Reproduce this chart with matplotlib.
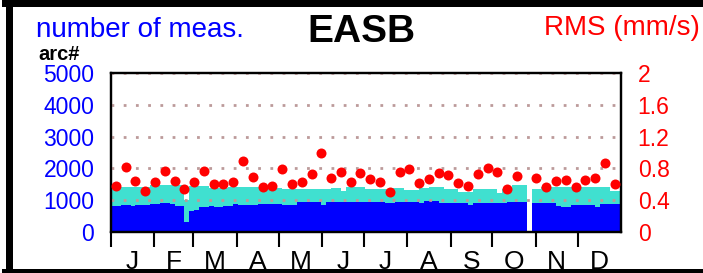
import matplotlib
matplotlib.use('Agg')
import matplotlib.pyplot as plt
import numpy as np
from matplotlib.lines import Line2D

plt.rcParams['font.family'] = ['Liberation Sans', 'DejaVu Sans']

# ---- data ----
months = ['J', 'F', 'M', 'A', 'M', 'J', 'J', 'A', 'S', 'O', 'N', 'D']
month_start_day = [0, 31, 59, 90, 120, 151, 181, 212, 243, 273, 304, 334, 365]

# half-week bins (3.5 days each), number of measurements
blue_counts = [
    830, 830, 840, 840, 830, 840, 850, 850, 880, 890, 900, 900, 890, 830, 830, 330,
    670, 680, 800, 800, 810, 800, 800, 820, 830, 880, 860, 860, 860, 860, 890, 890,
    890, 890, 880, 840, 850, 850, 930, 940, 940, 940, 940, 850, 940, 950, 950, 950,
    950, 950, 950, 950, 950, 950, 950, 950, 910, 900, 940, 940, 940, 940, 940, 920,
    970, 970, 970, 920, 905, 905, 905, 905, 905, 860, 920, 920, 920, 920, 920, 920,
    920, 930, 945, 945, 945, 0, 920, 920, 920, 900, 900, 820, 800, 800, 860, 860,
    860, 860, 860, 780, 890, 890, 890, 880]
total_counts = [
    1400, 1400, 1400, 1400, 1400, 1400, 1430, 1430, 1480, 1480, 1480, 1480, 1480, 1480, 1470, 1000,
    1450, 1450, 1450, 1450, 1380, 1380, 1370, 1370, 1420, 1420, 1420, 1420, 1420, 1420, 1400, 1400,
    1395, 1395, 1390, 1360, 1360, 1360, 1360, 1360, 1350, 1350, 1360, 1360, 1360, 1370, 1370, 1280,
    1420, 1420, 1420, 1420, 1340, 1340, 1340, 1340, 1340, 1370, 1370, 1370, 1320, 1320, 1320, 1395,
    1395, 1425, 1425, 1425, 1350, 1350, 1350, 1270, 1270, 1270, 1340, 1340, 1340, 1340, 1340, 1215,
    1350, 1350, 1480, 1480, 1480, 0, 1350, 1350, 1410, 1410, 1410, 1400, 1400, 1400, 1400, 1400,
    1400, 1420, 1425, 1425, 1425, 1425, 1280, 1280]
bin_days = 3.5

# weekly RMS (mm/s); week 42 missing
rms = [0.58, 0.82, 0.64, 0.52, 0.63, 0.77, 0.64, 0.54, 0.63, 0.77,
       0.60, 0.60, 0.63, 0.89, 0.69, 0.57, 0.58, 0.79, 0.60, 0.63,
       0.73, 0.99, 0.68, 0.75, 0.63, 0.74, 0.67, 0.63, 0.50, 0.75,
       0.79, 0.62, 0.67, 0.74, 0.72, 0.62, 0.58, 0.73, 0.80, 0.75,
       0.54, 0.70, np.nan, 0.68, 0.57, 0.64, 0.65, 0.57, 0.65, 0.68,
       0.87, 0.60]

left_ticks = [0, 1000, 2000, 3000, 4000, 5000]
right_ticks = [0, 0.4, 0.8, 1.2, 1.6, 2]
right_labels = ['0', '0.4', '0.8', '1.2', '1.6', '2']

# ---- figure ----
W, H = 703, 273
fig = plt.figure(figsize=(W / 100, H / 100), dpi=100)
ax = fig.add_axes([111 / W, 41 / H, 510 / W, 159 / H])

edges = np.arange(len(total_counts) + 1) * bin_days
ax.stairs(total_counts, edges, fill=True, color='#40e0d0', linewidth=0, zorder=1)
ax.stairs(blue_counts, edges, fill=True, color='#0000ff', linewidth=0, zorder=1.1)

ax.set_xlim(0, 365)
ax.set_ylim(0, 5000)
ax.set_yticks(left_ticks)
ax.set_yticklabels([str(t) for t in left_ticks])
ax.tick_params(axis='y', length=0, pad=12, labelcolor='#0000ff', labelsize=16.5)

centers = [(month_start_day[i] + month_start_day[i + 1]) / 2 for i in range(12)]
ax.set_xticks(centers)
ax.set_xticklabels(months)
ax.set_xticks(month_start_day[:-1], minor=True)
ax.tick_params(axis='x', which='major', length=0, pad=13, labelsize=19)
ax.tick_params(axis='x', which='minor', length=11, width=1.5, direction='out')

ax.set_axisbelow(False)
ax.grid(axis='y', color='#bc9a9a', linestyle=(0, (1, 3.4)), linewidth=2)
for s in ax.spines.values():
    s.set_linewidth(1.6)

ax2 = ax.twinx()
ax2.set_ylim(0, 2)
ax2.set_yticks(right_ticks)
ax2.set_yticklabels(right_labels)
ax2.tick_params(axis='y', length=0, pad=12, labelcolor='#ff0000', labelsize=16.5)
for s in ax2.spines.values():
    s.set_linewidth(1.6)

week_days = np.arange(len(rms)) * 7 + 3.5
ax2.plot(week_days, rms, 'o', color='#ff0000', markersize=7.2,
         markeredgewidth=0, clip_on=False, zorder=5)

# ---- titles ----
fig.text(36 / W, (H - 37) / H, 'number of meas.', color='#0000ff', fontsize=20,
         ha='left', va='baseline')
fig.text(361 / W, (H - 42) / H, 'EASB', color='black', fontsize=28,
         fontweight='bold', ha='center', va='baseline')
fig.text(700 / W, (H - 35) / H, 'RMS (mm/s)', color='#ff0000', fontsize=20,
         ha='right', va='baseline')
fig.text(38 / W, (H - 60) / H, 'arc#', color='black', fontsize=14.5,
         fontweight='bold', ha='left', va='baseline')

# ---- frame ----
lw = 7 * 0.72
fig.add_artist(Line2D([8.5 / W, 8.5 / W], [0, 1], transform=fig.transFigure,
                      color='black', linewidth=lw))
fig.add_artist(Line2D([5 / W, 1], [(H - 3.3) / H, (H - 3.3) / H],
                      transform=fig.transFigure, color='black', linewidth=lw))
fig.add_artist(Line2D([5 / W, 1], [(H - 272) / H, (H - 272) / H],
                      transform=fig.transFigure, color='black', linewidth=lw))

fig.savefig('out.png', dpi=100)
